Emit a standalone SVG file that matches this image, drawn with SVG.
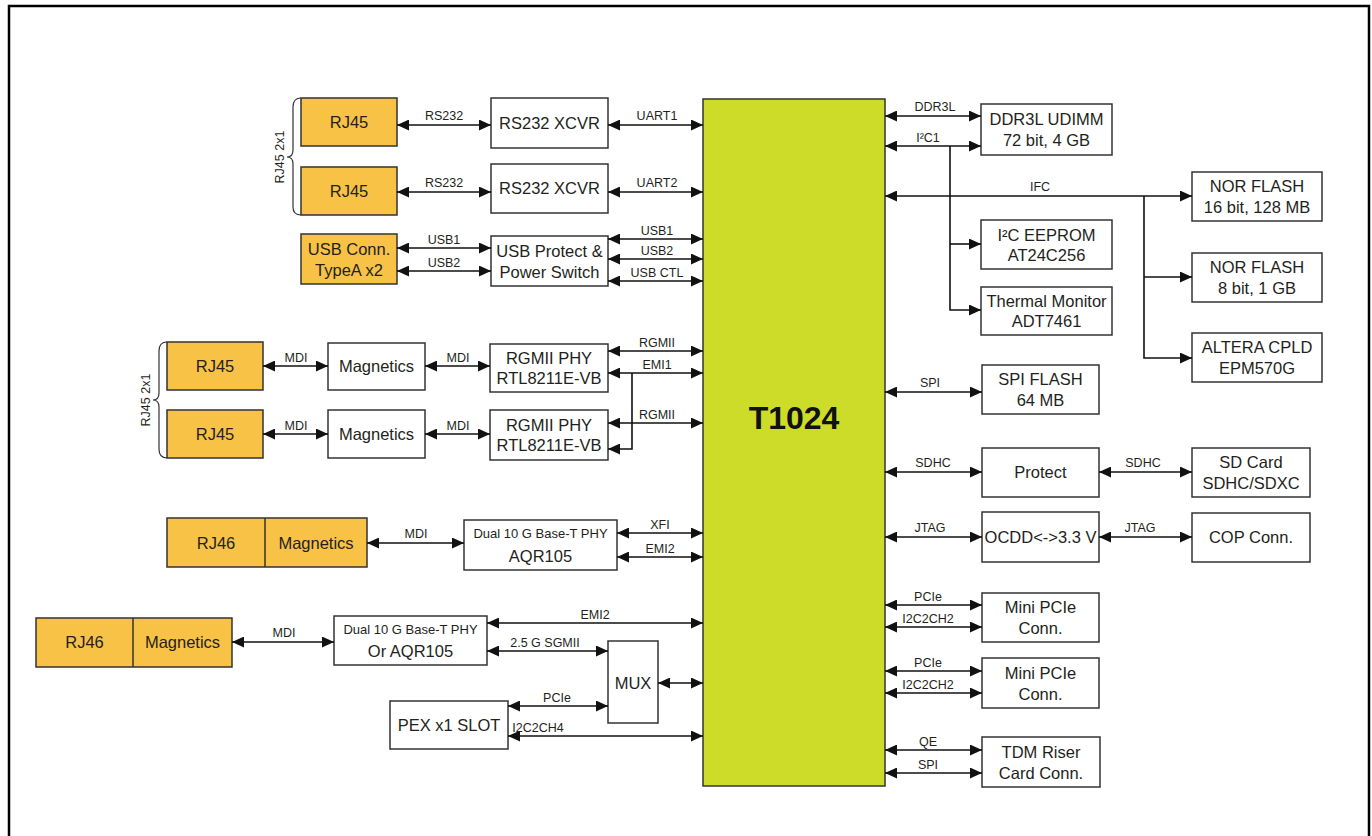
<svg xmlns="http://www.w3.org/2000/svg" width="1372" height="836" viewBox="0 0 1372 836">
<style>
.box{fill:#fff;stroke:#333;stroke-width:1.5}
.org{fill:#f8c247;stroke:#333;stroke-width:1.5}
.t{font-family:"Liberation Sans",Arial,sans-serif;font-size:16.5px;fill:#231f20;text-anchor:middle}
.s{font-family:"Liberation Sans",Arial,sans-serif;font-size:13px;fill:#231f20;text-anchor:middle}
.l{font-family:"Liberation Sans",Arial,sans-serif;font-size:12.5px;fill:#231f20;text-anchor:middle}
.w{fill:none;stroke:#111;stroke-width:1.6}
.b{marker-start:url(#ah);marker-end:url(#ah)}
.e{marker-end:url(#ah)}
</style>
<defs>
<marker id="ah" markerUnits="userSpaceOnUse" markerWidth="12" markerHeight="11" refX="12" refY="5.5" orient="auto-start-reverse" viewBox="0 0 12 11">
<path d="M0,0 L12,5.5 L0,11 z" fill="#111"/>
</marker>
</defs>
<rect width="1372" height="836" fill="#fff"/>
<path d="M9,836 V6 H1369 V836" fill="none" stroke="#000" stroke-width="2.5"/>

<g id="t1024"><rect x="703" y="99" width="182" height="687" fill="#cddc29" stroke="#333" stroke-width="1.5"/><text x="794" y="429" font-family="'Liberation Sans',Arial,sans-serif" font-size="32" font-weight="bold" fill="#111" text-anchor="middle">T1024</text></g>

<g id="rj45-1"><rect class="org" x="301" y="98" width="96" height="48"/><text class="t" x="349" y="128">RJ45</text></g>
<g id="rj45-2"><rect class="org" x="301" y="167" width="96" height="48"/><text class="t" x="349" y="197">RJ45</text></g>
<g id="brace1"><path d="M301,98 Q293,98 293,107 L293,150 Q293,157 287,157 Q293,157 293,164 L293,207 Q293,215 301,215" fill="none" stroke="#333" stroke-width="1.2"/><text class="l" transform="translate(284,157) rotate(-90)" font-size="11.5">RJ45 2x1</text></g>
<g id="xcvr1"><rect class="box" x="491" y="98" width="117" height="50"/><text class="t" x="549.5" y="129">RS232 XCVR</text></g>
<g id="xcvr2"><rect class="box" x="491" y="164" width="117" height="49"/><text class="t" x="549.5" y="194">RS232 XCVR</text></g>
<g id="usbconn"><rect class="org" x="301" y="234" width="96" height="50"/><text class="t" x="349" y="255">USB Conn.</text><text class="t" x="349" y="276">TypeA x2</text></g>
<g id="usbprot"><rect class="box" x="491" y="236" width="117" height="50"/><text class="t" x="549.5" y="257">USB Protect &amp;</text><text class="t" x="549.5" y="278">Power Switch</text></g>

<g id="rj45-3"><rect class="org" x="167" y="342" width="96" height="48"/><text class="t" x="215" y="372">RJ45</text></g>
<g id="rj45-4"><rect class="org" x="167" y="410" width="96" height="48"/><text class="t" x="215" y="440">RJ45</text></g>
<g id="brace2"><path d="M167,342 Q159,342 159,351 L159,393 Q159,400 153,400 Q159,400 159,407 L159,449 Q159,458 167,458" fill="none" stroke="#333" stroke-width="1.2"/><text class="l" transform="translate(150,400) rotate(-90)" font-size="11.5">RJ45 2x1</text></g>
<g id="mag1"><rect class="box" x="328" y="343" width="97" height="47"/><text class="t" x="376.5" y="372">Magnetics</text></g>
<g id="mag2"><rect class="box" x="328" y="410" width="97" height="48"/><text class="t" x="376.5" y="440">Magnetics</text></g>
<g id="phy1"><rect class="box" x="490" y="344" width="118" height="48"/><text class="t" x="549" y="364">RGMII PHY</text><text class="t" x="549" y="384">RTL8211E-VB</text></g>
<g id="phy2"><rect class="box" x="490" y="410" width="118" height="50"/><text class="t" x="549" y="431">RGMII PHY</text><text class="t" x="549" y="451">RTL8211E-VB</text></g>

<g id="rj46-1"><rect class="org" x="167" y="518" width="200" height="49"/><line x1="265" y1="518" x2="265" y2="567" stroke="#333" stroke-width="1.5"/><text class="t" x="216" y="549">RJ46</text><text class="t" x="316" y="549">Magnetics</text></g>
<g id="aqr1"><rect class="box" x="464" y="520" width="153" height="50"/><text class="s" x="540.5" y="538">Dual 10 G Base-T PHY</text><text class="t" x="540.5" y="562">AQR105</text></g>

<g id="rj46-2"><rect class="org" x="36" y="618" width="196" height="49"/><line x1="133" y1="618" x2="133" y2="667" stroke="#333" stroke-width="1.5"/><text class="t" x="84.5" y="648">RJ46</text><text class="t" x="182.5" y="648">Magnetics</text></g>
<g id="aqr2"><rect class="box" x="334" y="616" width="153" height="49"/><text class="s" x="410.5" y="634">Dual 10 G Base-T PHY</text><text class="t" x="410.5" y="657">Or AQR105</text></g>
<g id="mux"><rect class="box" x="608" y="641" width="50" height="82"/><text class="t" x="633" y="689">MUX</text></g>
<g id="pex"><rect class="box" x="390" y="701" width="118" height="48"/><text class="t" x="449" y="731">PEX x1 SLOT</text></g>

<g id="ddr"><rect class="box" x="981" y="104" width="131" height="51"/><text class="t" x="1046.5" y="125">DDR3L UDIMM</text><text class="t" x="1046.5" y="146">72 bit, 4 GB</text></g>
<g id="eeprom"><rect class="box" x="981" y="220" width="131" height="49"/><text class="t" x="1046.5" y="241">I²C EEPROM</text><text class="t" x="1046.5" y="261">AT24C256</text></g>
<g id="thermal"><rect class="box" x="981" y="287" width="131" height="48"/><text class="t" x="1046.5" y="307">Thermal Monitor</text><text class="t" x="1046.5" y="327">ADT7461</text></g>
<g id="nor1"><rect class="box" x="1192" y="172" width="130" height="49"/><text class="t" x="1257" y="192">NOR FLASH</text><text class="t" x="1257" y="213">16 bit, 128 MB</text></g>
<g id="nor2"><rect class="box" x="1192" y="253" width="130" height="49"/><text class="t" x="1257" y="273">NOR FLASH</text><text class="t" x="1257" y="294">8 bit, 1 GB</text></g>
<g id="cpld"><rect class="box" x="1192" y="333" width="130" height="49"/><text class="t" x="1257" y="353">ALTERA CPLD</text><text class="t" x="1257" y="374">EPM570G</text></g>
<g id="spiflash"><rect class="box" x="982" y="365" width="117" height="49"/><text class="t" x="1040.5" y="385">SPI FLASH</text><text class="t" x="1040.5" y="406">64 MB</text></g>
<g id="protect"><rect class="box" x="982" y="448" width="117" height="49"/><text class="t" x="1040.5" y="478">Protect</text></g>
<g id="sdcard"><rect class="box" x="1192" y="448" width="118" height="49"/><text class="t" x="1251" y="468">SD Card</text><text class="t" x="1251" y="489">SDHC/SDXC</text></g>
<g id="ocdd"><rect class="box" x="982" y="512" width="117" height="50"/><text class="t" x="1040.5" y="543">OCDD&lt;-&gt;3.3 V</text></g>
<g id="cop"><rect class="box" x="1192" y="513" width="118" height="49"/><text class="t" x="1251" y="543">COP Conn.</text></g>
<g id="minipcie1"><rect class="box" x="982" y="593" width="117" height="49"/><text class="t" x="1040.5" y="613">Mini PCIe</text><text class="t" x="1040.5" y="634">Conn.</text></g>
<g id="minipcie2"><rect class="box" x="982" y="658" width="117" height="50"/><text class="t" x="1040.5" y="679">Mini PCIe</text><text class="t" x="1040.5" y="700">Conn.</text></g>
<g id="tdm"><rect class="box" x="982" y="737" width="118" height="50"/><text class="t" x="1041" y="758">TDM Riser</text><text class="t" x="1041" y="779">Card Conn.</text></g>

<g id="connectors">
<line class="w b" x1="397" y1="125" x2="491" y2="125"/>
<line class="w b" x1="608" y1="125" x2="703" y2="125"/>
<line class="w b" x1="397" y1="192" x2="491" y2="192"/>
<line class="w b" x1="608" y1="192" x2="703" y2="192"/>
<line class="w b" x1="397" y1="248" x2="491" y2="248"/>
<line class="w b" x1="397" y1="271" x2="491" y2="271"/>
<line class="w b" x1="608" y1="239" x2="703" y2="239"/>
<line class="w b" x1="608" y1="259" x2="703" y2="259"/>
<line class="w b" x1="608" y1="281" x2="703" y2="281"/>
<line class="w b" x1="263" y1="366" x2="328" y2="366"/>
<line class="w b" x1="425" y1="366" x2="490" y2="366"/>
<line class="w b" x1="263" y1="434" x2="328" y2="434"/>
<line class="w b" x1="425" y1="434" x2="490" y2="434"/>
<line class="w b" x1="608" y1="351" x2="703" y2="351"/>
<line class="w b" x1="608" y1="373" x2="703" y2="373"/>
<path class="w e" d="M632,373 V449 H608"/>
<line class="w b" x1="608" y1="423" x2="703" y2="423"/>
<line class="w b" x1="367" y1="543" x2="464" y2="543"/>
<line class="w b" x1="617" y1="533" x2="703" y2="533"/>
<line class="w b" x1="617" y1="557" x2="703" y2="557"/>
<line class="w b" x1="232" y1="642" x2="334" y2="642"/>
<line class="w b" x1="487" y1="623" x2="703" y2="623"/>
<line class="w b" x1="487" y1="651" x2="608" y2="651"/>
<line class="w b" x1="658" y1="683" x2="703" y2="683"/>
<line class="w b" x1="508" y1="706" x2="608" y2="706"/>
<line class="w b" x1="508" y1="736" x2="703" y2="736"/>
<line class="w b" x1="885" y1="116" x2="981" y2="116"/>
<line class="w b" x1="885" y1="146" x2="981" y2="146"/>
<path class="w e" d="M950,146 V310 H981"/>
<path class="w e" d="M950,244 H981"/>
<line class="w b" x1="885" y1="196" x2="1192" y2="196"/>
<path class="w e" d="M1144,196 V358 H1192"/>
<path class="w e" d="M1144,277 H1192"/>
<line class="w b" x1="885" y1="392" x2="982" y2="392"/>
<line class="w b" x1="885" y1="472" x2="982" y2="472"/>
<line class="w b" x1="1099" y1="472" x2="1192" y2="472"/>
<line class="w b" x1="885" y1="537" x2="982" y2="537"/>
<line class="w b" x1="1099" y1="537" x2="1192" y2="537"/>
<line class="w b" x1="885" y1="605" x2="982" y2="605"/>
<line class="w b" x1="885" y1="627" x2="982" y2="627"/>
<line class="w b" x1="885" y1="671" x2="982" y2="671"/>
<line class="w b" x1="885" y1="693" x2="982" y2="693"/>
<line class="w b" x1="885" y1="750" x2="982" y2="750"/>
<line class="w b" x1="885" y1="773" x2="982" y2="773"/>
<text class="l" x="444" y="120">RS232</text>
<text class="l" x="657" y="120">UART1</text>
<text class="l" x="444" y="187">RS232</text>
<text class="l" x="657" y="187">UART2</text>
<text class="l" x="444" y="244">USB1</text>
<text class="l" x="444" y="267">USB2</text>
<text class="l" x="657" y="235">USB1</text>
<text class="l" x="657" y="255">USB2</text>
<text class="l" x="657" y="277">USB CTL</text>
<text class="l" x="296" y="362">MDI</text>
<text class="l" x="458" y="362">MDI</text>
<text class="l" x="296" y="430">MDI</text>
<text class="l" x="458" y="430">MDI</text>
<text class="l" x="657" y="347">RGMII</text>
<text class="l" x="657" y="369">EMI1</text>
<text class="l" x="657" y="419">RGMII</text>
<text class="l" x="416" y="538">MDI</text>
<text class="l" x="660" y="529">XFI</text>
<text class="l" x="660" y="553">EMI2</text>
<text class="l" x="284" y="637">MDI</text>
<text class="l" x="595" y="619">EMI2</text>
<text class="l" x="545" y="647">2.5 G SGMII</text>
<text class="l" x="557" y="702">PCIe</text>
<text class="l" x="538" y="732">I2C2CH4</text>
<text class="l" x="935" y="111">DDR3L</text>
<text class="l" x="928" y="142">I²C1</text>
<text class="l" x="1040" y="191">IFC</text>
<text class="l" x="930" y="387">SPI</text>
<text class="l" x="933" y="467">SDHC</text>
<text class="l" x="1143" y="467">SDHC</text>
<text class="l" x="930" y="532">JTAG</text>
<text class="l" x="1140" y="532">JTAG</text>
<text class="l" x="928" y="601">PCIe</text>
<text class="l" x="928" y="623">I2C2CH2</text>
<text class="l" x="928" y="667">PCIe</text>
<text class="l" x="928" y="689">I2C2CH2</text>
<text class="l" x="928" y="746">QE</text>
<text class="l" x="928" y="769">SPI</text>
</g>
</svg>
